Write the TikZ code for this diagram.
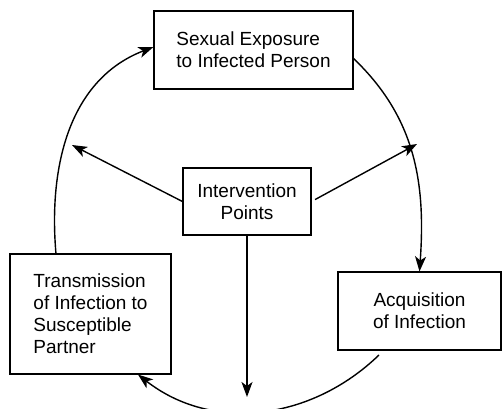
\documentclass[tikz,border=0pt]{standalone}
\usepackage{fontspec}
\setmainfont{Liberation Sans}
\usetikzlibrary{arrows.meta}
\begin{document}
\begin{tikzpicture}[x=1pt,y=1pt,
  box/.style={draw,line width=1.1pt,inner sep=0pt,font=\fontsize{19}{22}\selectfont},
  conn/.style={line width=1.4pt,-{Stealth[length=15pt,width=11pt,inset=4pt]}}]
\useasboundingbox (0,0) rectangle (504,408);
\node[box,minimum width=199pt,minimum height=78pt,align=left] (exp) at (253.5,358) {Sexual Exposure\\to Infected Person};
\node[box,minimum width=161pt,minimum height=120pt,align=left] (trans) at (90.5,94) {Transmission\\of Infection to\\Susceptible\\Partner};
\node[box,minimum width=128pt,minimum height=67pt,align=center] (ctr) at (247,206.5) {Intervention\\Points};
\node[box,minimum width=163pt,minimum height=78pt,align=center] (acq) at (419.5,97) {Acquisition\\of Infection};
\coordinate (tl) at (72,263);
\coordinate (tr) at (417,264);
\coordinate (bt) at (247,11);
\draw[conn] (ctr.west) -- (tl);
\draw[conn,shorten <=4pt] (ctr.east) -- (tr);
\draw[conn] (ctr.south) -- (bt);
\coordinate (a1) at (353,350);
\draw[conn] (a1) to[out=-43.5,in=86] (acq.north);
\coordinate (a2) at (379,53);
\draw[conn] (a2) to[out=224,in=-38] (trans.south east -| 138,28);
\coordinate (a3) at (56,154);
\draw[conn] (a3) to[out=95,in=201] (exp.west |- 153,361);
\end{tikzpicture}
\end{document}
